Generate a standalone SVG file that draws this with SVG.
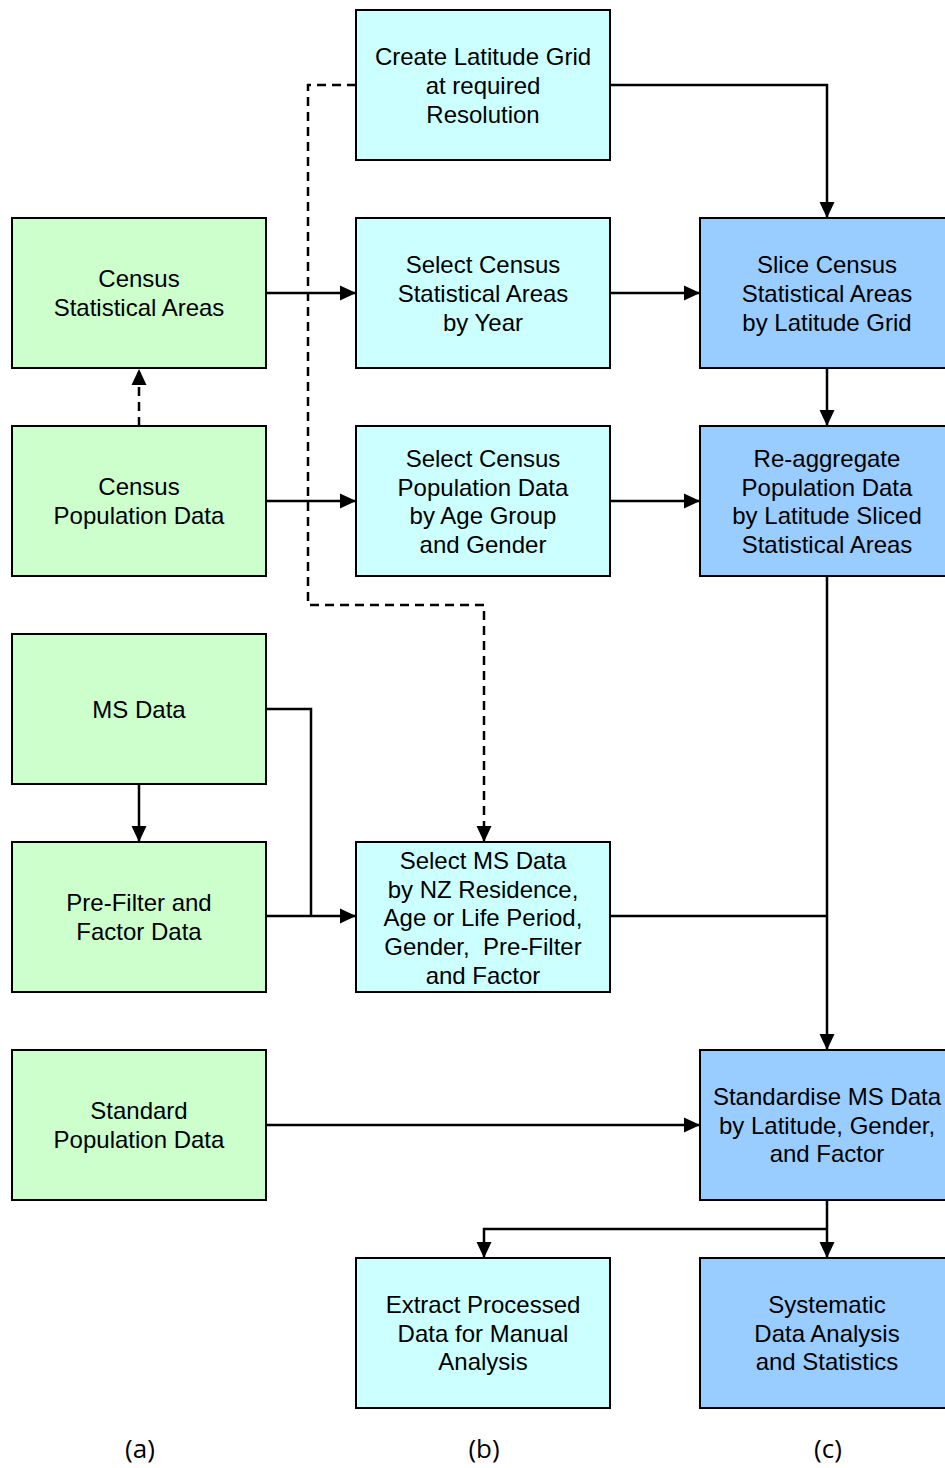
<svg xmlns="http://www.w3.org/2000/svg" width="945" height="1468" viewBox="0 0 945 1468">
<style>
.box{stroke:#000;stroke-width:2}
.g{fill:#CCFFCC}.c{fill:#CCFFFF}.b{fill:#99CCFF}
.t{font-family:"Liberation Sans",Arial,sans-serif;font-size:24px;fill:#000;text-anchor:middle;white-space:pre}
.lab{font-family:"Open Sans","Liberation Sans",sans-serif;font-size:26px;fill:#000;text-anchor:middle}
.ln{fill:none;stroke:#000;stroke-width:2.5}
.dash{stroke-dasharray:9,6}
</style>
<defs>
<marker id="ah" markerUnits="userSpaceOnUse" markerWidth="16" markerHeight="16" refX="16" refY="8" orient="auto">
<path d="M0,0.5 L16,8 L0,15.5 z" fill="#000"/>
</marker>
</defs>
<rect width="945" height="1468" fill="#fff"/>
<g id="connectors">
<path class="ln dash" d="M356,85 H308 V605 H484 V842" marker-end="url(#ah)"/>
<path class="ln dash" d="M139,426 V369" marker-end="url(#ah)"/>
<path class="ln" d="M611,85 H827 V218" marker-end="url(#ah)"/>
<path class="ln" d="M266,293 H356" marker-end="url(#ah)"/>
<path class="ln" d="M611,293 H700" marker-end="url(#ah)"/>
<path class="ln" d="M827,369 V426" marker-end="url(#ah)"/>
<path class="ln" d="M266,501 H356" marker-end="url(#ah)"/>
<path class="ln" d="M611,501 H700" marker-end="url(#ah)"/>
<path class="ln" d="M827,577 V1050" marker-end="url(#ah)"/>
<path class="ln" d="M611,916 H827"/>
<path class="ln" d="M266,709 H311 V916"/>
<path class="ln" d="M139,785 V842" marker-end="url(#ah)"/>
<path class="ln" d="M266,916 H356" marker-end="url(#ah)"/>
<path class="ln" d="M266,1125 H700" marker-end="url(#ah)"/>
<path class="ln" d="M827,1201 V1258" marker-end="url(#ah)"/>
<path class="ln" d="M827,1229 H484 V1258" marker-end="url(#ah)"/>
</g>
<g id="n_grid"><rect class="box c" x="356" y="10" width="254" height="150"/>
<text class="t" x="483" y="65">Create Latitude Grid</text><text class="t" x="483" y="94">at required</text><text class="t" x="483" y="123">Resolution</text></g>
<g id="n_csa"><rect class="box g" x="12" y="218" width="254" height="150"/>
<text class="t" x="139" y="287">Census</text><text class="t" x="139" y="316">Statistical Areas</text></g>
<g id="n_selcsa"><rect class="box c" x="356" y="218" width="254" height="150"/>
<text class="t" x="483" y="273">Select Census</text><text class="t" x="483" y="302">Statistical Areas</text><text class="t" x="483" y="331">by Year</text></g>
<g id="n_slice"><rect class="box b" x="700" y="218" width="254" height="150"/>
<text class="t" x="827" y="273">Slice Census</text><text class="t" x="827" y="302">Statistical Areas</text><text class="t" x="827" y="331">by Latitude Grid</text></g>
<g id="n_cpd"><rect class="box g" x="12" y="426" width="254" height="150"/>
<text class="t" x="139" y="495">Census</text><text class="t" x="139" y="524">Population Data</text></g>
<g id="n_selcpd"><rect class="box c" x="356" y="426" width="254" height="150"/>
<text class="t" x="483" y="467">Select Census</text><text class="t" x="483" y="496">Population Data</text><text class="t" x="483" y="524">by Age Group</text><text class="t" x="483" y="553">and Gender</text></g>
<g id="n_reagg"><rect class="box b" x="700" y="426" width="254" height="150"/>
<text class="t" x="827" y="467">Re-aggregate</text><text class="t" x="827" y="496">Population Data</text><text class="t" x="827" y="524">by Latitude Sliced</text><text class="t" x="827" y="553">Statistical Areas</text></g>
<g id="n_ms"><rect class="box g" x="12" y="634" width="254" height="150"/>
<text class="t" x="139" y="718">MS Data</text></g>
<g id="n_pf"><rect class="box g" x="12" y="842" width="254" height="150"/>
<text class="t" x="139" y="911">Pre-Filter and</text><text class="t" x="139" y="940">Factor Data</text></g>
<g id="n_selms"><rect class="box c" x="356" y="842" width="254" height="150"/>
<text class="t" x="483" y="869">Select MS Data</text><text class="t" x="483" y="898">by NZ Residence,</text><text class="t" x="483" y="926">Age or Life Period,</text><text class="t" x="483" y="955" xml:space="preserve">Gender,  Pre-Filter</text><text class="t" x="483" y="984">and Factor</text></g>
<g id="n_std"><rect class="box g" x="12" y="1050" width="254" height="150"/>
<text class="t" x="139" y="1119">Standard</text><text class="t" x="139" y="1148">Population Data</text></g>
<g id="n_stdms"><rect class="box b" x="700" y="1050" width="254" height="150"/>
<text class="t" x="827" y="1105">Standardise MS Data</text><text class="t" x="827" y="1134">by Latitude, Gender,</text><text class="t" x="827" y="1162">and Factor</text></g>
<g id="n_extract"><rect class="box c" x="356" y="1258" width="254" height="150"/>
<text class="t" x="483" y="1313">Extract Processed</text><text class="t" x="483" y="1342">Data for Manual</text><text class="t" x="483" y="1370">Analysis</text></g>
<g id="n_sys"><rect class="box b" x="700" y="1258" width="254" height="150"/>
<text class="t" x="827" y="1313">Systematic</text><text class="t" x="827" y="1342">Data Analysis</text><text class="t" x="827" y="1370">and Statistics</text></g>
<g id="labels">
<text class="lab" x="140" y="1458">(a)</text>
<text class="lab" x="484" y="1458">(b)</text>
<text class="lab" x="828" y="1458">(c)</text>
</g>
</svg>
